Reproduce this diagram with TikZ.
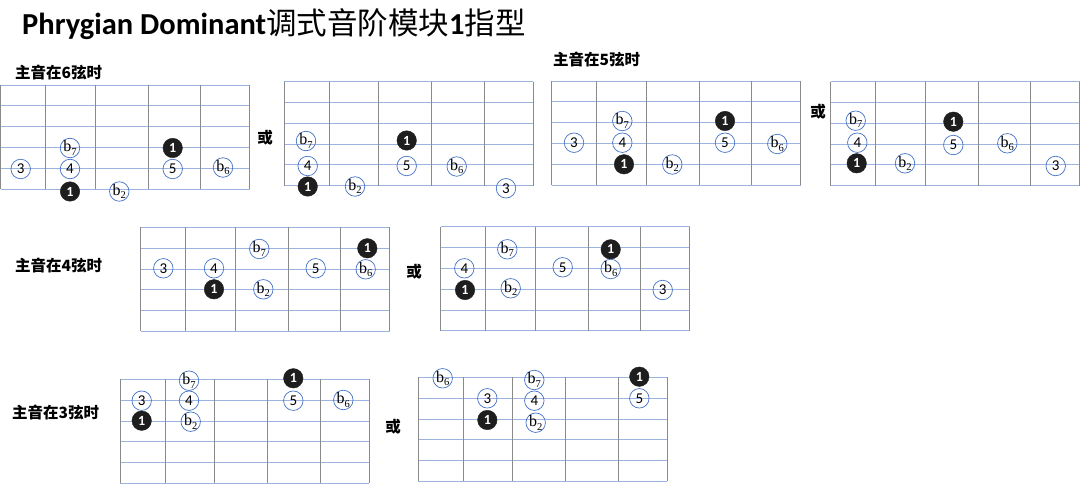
\documentclass[tikz,border=0pt]{standalone}
\usepackage{fontspec}
\setmainfont{Carlito}
\newfontfamily\cjk{Noto Sans CJK SC}
\newfontfamily\serifb{Liberation Serif}
\definecolor{hl}{HTML}{9CB3E0}
\definecolor{vl}{HTML}{8A8A8A}
\definecolor{cb}{HTML}{4472C4}
\definecolor{dk}{HTML}{1E1E1E}
\tikzset{
  hline/.style={draw=hl,line width=0.8pt},
  vline/.style={draw=vl,line width=0.8pt},
  notec/.style={circle,draw=cb,line width=0.7pt,minimum size=19.5pt,inner sep=0pt,font=\fontsize{15}{15}\selectfont},
  rootc/.style={circle,fill=dk,draw=dk,minimum size=19.5pt,inner sep=0pt,text=white,font=\bfseries\fontsize{14}{14}\selectfont},
  lbl/.style={anchor=west,inner sep=0pt,font=\cjk\bfseries\fontsize{15.5}{16}\selectfont},
  huo/.style={inner sep=0pt,font=\cjk\bfseries\fontsize{15.5}{16}\selectfont}
}
\newcommand{\fboard}[2]{%
  \foreach \k in {0,...,5} {\draw[hline] (#1,#2+20.8*\k) -- ++(249,0);}
  \foreach \v in {0,45,94.5,147.5,200,249} {\draw[vline] (#1+\v,#2) -- ++(0,104);}
}
\newcommand{\nn}[4]{\node[notec] (#1) at (#2,#3) {\makebox[0pt]{#4}};}
\newcommand{\nb}[4]{\node[notec] (#1) at (#2,#3) {\makebox[0pt]{\serifb\fontsize{16}{16}\selectfont b\raisebox{-3.5pt}{\fontsize{10.5}{10.5}\selectfont #4}}};}
\newcommand{\nr}[3]{\node[rootc] (#1) at (#2,#3) {1};}
\begin{document}
\begin{tikzpicture}[x=1pt,y=-1pt]
\useasboundingbox (0,0) rectangle (1080,484);
% title
\node[anchor=base west,inner sep=0pt,font=\fontsize{30.5}{32}\selectfont] (title) at (22,35)
  {\bfseries Phrygian Dominant{\cjk\mdseries 调式音阶模块}1{\cjk\mdseries 指型}};
% labels
\node[lbl] (l6) at (15,73) {主音在\textbf{6}弦时};
\node[lbl] (l5) at (553,60) {主音在\textbf{5}弦时};
\node[lbl] (l4) at (15,266) {主音在\textbf{4}弦时};
\node[lbl] (l3) at (12,413) {主音在\textbf{3}弦时};
\node[huo] (h1) at (265,138) {或};
\node[huo] (h2) at (818,112) {或};
\node[huo] (h3) at (414,272) {或};
\node[huo] (h4) at (393,427) {或};
% boards
\fboard{0.5}{85}
\fboard{284.3}{81.7}
\fboard{551.7}{81}
\fboard{830.7}{81.7}
\fboard{140.7}{227.3}
\fboard{440.7}{226.7}
\fboard{120}{379.3}
\fboard{418.3}{377.3}
% D1
\nb{a1}{70}{148}{7} \nr{a2}{172.7}{148} \nn{a3}{20.7}{169}{3} \nn{a4}{70}{169}{4}
\nn{a5}{172.7}{169}{5} \nb{a6}{223}{167.5}{6} \nr{a7}{70}{191.5} \nb{a8}{119.3}{191.5}{2}
% D2
\nb{b1}{306}{141}{7} \nr{b2}{406.7}{140.5} \nn{b3}{307.7}{166}{4} \nn{b4}{406.7}{166}{5}
\nb{b5}{456.7}{166.5}{6} \nr{b6}{307.7}{186.5} \nb{b7}{355}{186.5}{2} \nn{b8}{506}{188.3}{3}
% D3
\nb{c1}{622.3}{121}{7} \nr{c2}{725}{121} \nn{c3}{574}{142.7}{3} \nn{c4}{622.3}{142.7}{4}
\nn{c5}{725}{142.7}{5} \nb{c6}{777.3}{144}{6} \nr{c7}{624}{164.3} \nb{c8}{672.3}{164.5}{2}
% D4
\nb{d1}{855.7}{120.7}{7} \nr{d2}{953.3}{121.7} \nn{d3}{857.3}{142.7}{4} \nn{d4}{953.3}{145}{5}
\nb{d5}{1007.3}{143.3}{6} \nr{d6}{856.7}{163.3} \nb{d7}{905}{163.3}{2} \nn{d8}{1055.7}{166}{3}
% D5
\nn{e1}{163.3}{268.3}{3} \nb{e2}{259.3}{249}{7} \nn{e3}{214}{268.3}{4} \nr{e4}{214}{289.3}
\nb{e5}{263.3}{289.3}{2} \nn{e6}{315.7}{268.3}{5} \nr{e7}{367.3}{248.3} \nb{e8}{365.7}{269.3}{6}
% D6
\nb{f1}{507.3}{249.3}{7} \nn{f2}{464.3}{268.3}{4} \nr{f3}{465}{290} \nb{f4}{510.7}{288.3}{2}
\nn{f5}{562.7}{267.3}{5} \nr{f6}{610.7}{249.3} \nb{f7}{610.7}{269}{6} \nn{f8}{662.7}{290}{3}
% D7
\nb{g1}{189}{380.7}{7} \nn{g2}{141.7}{400.7}{3} \nn{g3}{189}{400.7}{4} \nr{g4}{141.7}{420.7}
\nb{g5}{190.7}{421.7}{2} \nr{g6}{293.3}{378.3} \nn{g7}{293.3}{400.7}{5} \nb{g8}{343.3}{400}{6}
% D8
\nb{k1}{442.7}{378.3}{6} \nn{k2}{487.3}{398.3}{3} \nr{k3}{487.3}{420} \nb{k4}{534.3}{380}{7}
\nn{k5}{534.3}{400.7}{4} \nb{k6}{535.7}{422.7}{2} \nr{k7}{639.3}{376.7} \nn{k8}{639.3}{398.3}{5}
\end{tikzpicture}
\end{document}
